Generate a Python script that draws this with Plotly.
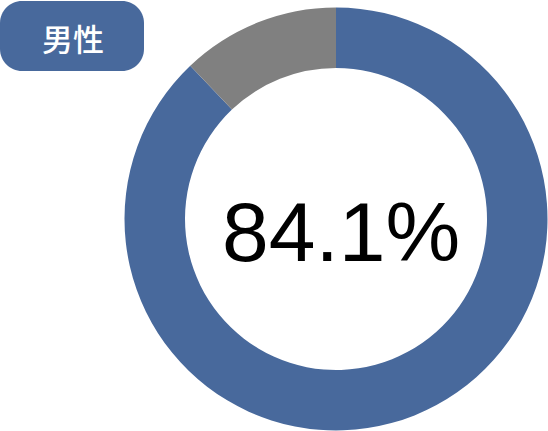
import plotly.graph_objects as go

# data
labels = ["男性", "その他"]
values = [87.9, 12.1]
colors = ["#48699c", "#808080"]
center_label = "84.1%"
badge_label = "男性"

W, H = 548, 431


def px_x(x):
    return x / W


def px_y(y):
    return 1 - y / H


def rounded_rect(x0, y0, x1, y1, r):
    # path in paper coords built from pixel values
    k = 0.5523 * r
    pts = [
        ("M", [(x0 + r, y0)]),
        ("L", [(x1 - r, y0)]),
        ("C", [(x1 - r + k, y0), (x1, y0 + r - k), (x1, y0 + r)]),
        ("L", [(x1, y1 - r)]),
        ("C", [(x1, y1 - r + k), (x1 - r + k, y1), (x1 - r, y1)]),
        ("L", [(x0 + r, y1)]),
        ("C", [(x0 + r - k, y1), (x0, y1 - r + k), (x0, y1 - r)]),
        ("L", [(x0, y0 + r)]),
        ("C", [(x0, y0 + r - k), (x0 + r - k, y0), (x0 + r, y0)]),
    ]
    out = []
    for cmd, ps in pts:
        out.append(cmd + " " + " ".join("%.5f,%.5f" % (px_x(a), px_y(b)) for a, b in ps))
    return " ".join(out) + " Z"


cx, cy, r_out, r_in = 336, 219, 211.5, 151

fig = go.Figure(go.Pie(
    labels=labels,
    values=values,
    marker=dict(colors=colors, line=dict(width=0)),
    hole=r_in / r_out,
    sort=False,
    direction="clockwise",
    rotation=0,
    textinfo="none",
    hoverinfo="skip",
    showlegend=False,
    domain=dict(x=[(cx - r_out) / W, (cx + r_out) / W],
                y=[(H - cy - r_out) / H, (H - cy + r_out) / H]),
))

fig.add_shape(type="path", xref="paper", yref="paper",
              path=rounded_rect(0, 1, 144, 71, 22),
              fillcolor="#48699c", line=dict(width=0), layer="below")

fig.add_annotation(text=badge_label, x=px_x(73), y=px_y(38), xref="paper", yref="paper",
                   showarrow=False, xanchor="center", yanchor="middle",
                   font=dict(family="Noto Sans CJK JP", size=31, color="white", weight=500))

fig.add_annotation(text=center_label, x=px_x(341), y=px_y(232), xref="paper", yref="paper",
                   showarrow=False, xanchor="center", yanchor="middle",
                   font=dict(family="Liberation Sans", size=84, color="black"))

fig.update_layout(width=W, height=H, margin=dict(l=0, r=0, t=0, b=0),
                  paper_bgcolor="white", plot_bgcolor="white")

# page margin off so the figure sits at the window's corner
fig.write_html("out.html", config={"displayModeBar": False},
               post_script="document.body.style.margin='0';")
